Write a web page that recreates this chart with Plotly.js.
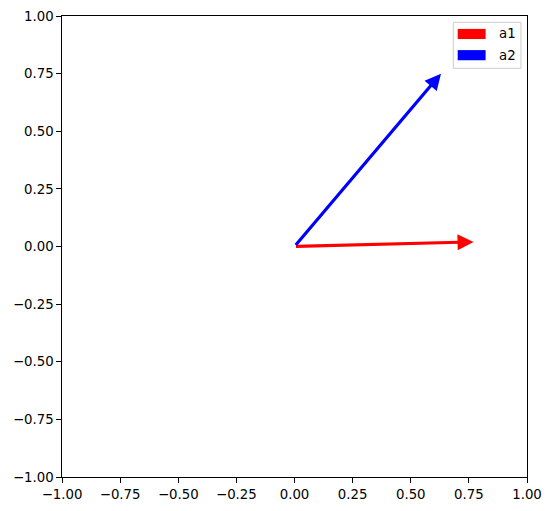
<!DOCTYPE html>
<html>
<head>
<meta charset="utf-8">
<script src="https://cdn.plot.ly/plotly-3.0.1.min.js"></script>
<style>html,body{margin:0;padding:0;background:#fff;}</style>
</head>
<body>
<div id="chart" style="width:552px;height:511px;"></div>
<script>
// Data
const names = ['a1', 'a2'];
const originX = [0, 0];
const originY = [0, 0];
const tipX = [0.77, 0.63];
const tipY = [0.02, 0.75];
const colors = ['#ff0000', '#0000ff'];
const tickVals = [-1, -0.75, -0.5, -0.25, 0, 0.25, 0.5, 0.75, 1];

const font = {family: 'DejaVu Sans', size: 13.3, color: '#000'};

// invisible trace so axes are drawn
const traces = [{
  x: originX, y: originY, mode: 'markers', type: 'scatter',
  marker: {opacity: 0}, showlegend: false, hoverinfo: 'skip'
}];

const annotations = names.map((n, i) => ({
  x: tipX[i], y: tipY[i], xref: 'x', yref: 'y',
  ax: originX[i], ay: originY[i], axref: 'x', ayref: 'y',
  showarrow: true, arrowhead: 2, arrowsize: 1.0, arrowwidth: 3.2,
  arrowcolor: colors[i], text: ''
}));

// manual legend (matplotlib style patches)
const shapes = [{
  type: 'rect', xref: 'paper', yref: 'paper',
  x0: 0.8415, x1: 0.987, y0: 0.8866, y1: 0.9863,
  line: {color: '#cccccc', width: 1}, fillcolor: 'rgba(255,255,255,0.8)'
}];
const patchY = [[0.950, 0.972], [0.904, 0.926]];
const textY = [0.961, 0.915];
names.forEach((n, i) => {
  shapes.push({
    type: 'rect', xref: 'paper', yref: 'paper',
    x0: 0.851, x1: 0.911, y0: patchY[i][0], y1: patchY[i][1],
    line: {width: 0}, fillcolor: colors[i]
  });
  annotations.push({
    xref: 'paper', yref: 'paper', x: 0.9355, y: textY[i],
    xanchor: 'left', yanchor: 'middle', text: n, showarrow: false,
    font: font
  });
});

const axisCommon = {
  range: [-1, 1], tickvals: tickVals, tickformat: '.2f',
  showgrid: false, zeroline: false, showline: true, mirror: true,
  linecolor: '#000', linewidth: 1, ticks: 'outside', ticklen: 4.7,
  tickwidth: 1, tickcolor: '#000', tickfont: font, fixedrange: true
};

const layout = {
  width: 552, height: 511,
  margin: {l: 62, r: 25, t: 16, b: 34, pad: 0},
  paper_bgcolor: '#fff', plot_bgcolor: '#fff',
  xaxis: Object.assign({}, axisCommon),
  yaxis: Object.assign({}, axisCommon),
  showlegend: false,
  annotations: annotations,
  shapes: shapes,
  font: font
};

Plotly.newPlot('chart', traces, layout, {displayModeBar: false, staticPlot: true});
</script>
</body>
</html>
